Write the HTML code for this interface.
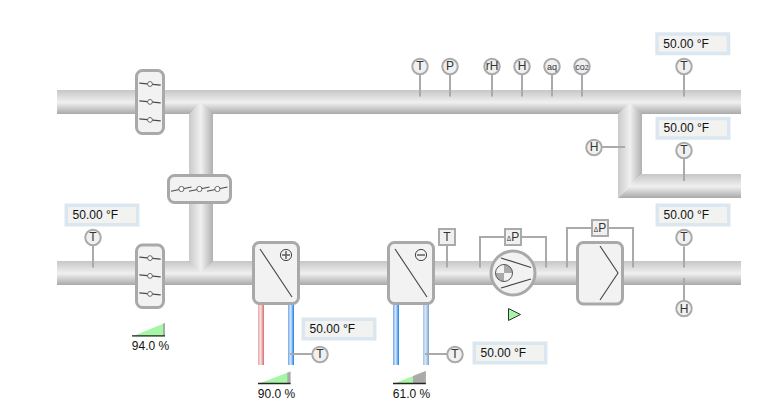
<!DOCTYPE html>
<html><head><meta charset="utf-8">
<style>
html,body{margin:0;padding:0;background:#fff;width:771px;height:418px;overflow:hidden}
svg{display:block;font-family:"Liberation Sans",sans-serif}
</style></head><body>
<svg width="771" height="418" viewBox="0 0 771 418">
<defs>
<linearGradient id="gh" x1="0" y1="0" x2="0" y2="1">
<stop offset="0" stop-color="#c6c6c6"/><stop offset="0.52" stop-color="#f0f0f0"/><stop offset="1" stop-color="#a9a9a9"/>
</linearGradient>
<linearGradient id="gv" x1="0" y1="0" x2="1" y2="0">
<stop offset="0" stop-color="#cacaca"/><stop offset="0.5" stop-color="#f0f0f0"/><stop offset="1" stop-color="#b0b0b0"/>
</linearGradient>
<linearGradient id="gred" x1="0" y1="0" x2="1" y2="0">
<stop offset="0" stop-color="#eba6a6"/><stop offset="0.45" stop-color="#f1e2e2"/><stop offset="1" stop-color="#df6868"/>
</linearGradient>
<linearGradient id="gblue" x1="0" y1="0" x2="1" y2="0">
<stop offset="0" stop-color="#6ea8f0"/><stop offset="0.45" stop-color="#d9e7f6"/><stop offset="1" stop-color="#167cf0"/>
</linearGradient>
<linearGradient id="gblue2" x1="0" y1="0" x2="1" y2="0">
<stop offset="0" stop-color="#9cc6f2"/><stop offset="0.45" stop-color="#dfe6ee"/><stop offset="1" stop-color="#6f9fdc"/>
</linearGradient>
</defs>

<!-- pipes -->
<rect x="57" y="90" width="684" height="24" fill="url(#gh)"/>
<rect x="57" y="261" width="684" height="24" fill="url(#gh)"/>
<polygon points="189,114 201,102 213,114 213,261 201,273 189,261" fill="url(#gv)"/>
<polygon points="618,114 630,102 642,114 642,174 618,198" fill="url(#gv)"/>
<polygon points="618,198 642,174 741,174 741,198" fill="url(#gh)"/>

<!-- water pipes -->
<rect x="258" y="304" width="6" height="61" fill="url(#gred)"/>
<rect x="288" y="304" width="6" height="61" fill="url(#gblue)"/>
<rect x="393" y="304" width="6" height="61" fill="url(#gblue)"/>
<rect x="423" y="304" width="6" height="61" fill="url(#gblue2)"/>

<!-- sensor lines -->
<g stroke="#aaaaaa" stroke-width="2" fill="none">
<line x1="420" y1="74" x2="420" y2="96.5"/>
<line x1="450" y1="74" x2="450" y2="96.5"/>
<line x1="492" y1="74" x2="492" y2="96.5"/>
<line x1="522" y1="74" x2="522" y2="96.5"/>
<line x1="552" y1="74" x2="552" y2="96.5"/>
<line x1="582" y1="74" x2="582" y2="96.5"/>
<line x1="684" y1="74" x2="684" y2="96.5"/>
<line x1="684" y1="159" x2="684" y2="181"/>
<line x1="602" y1="147" x2="625" y2="147"/>
<line x1="93" y1="245" x2="93" y2="267.5"/>
<line x1="684" y1="246.5" x2="684" y2="267.5"/>
<line x1="684" y1="278" x2="684" y2="301"/>
<line x1="447" y1="246" x2="447" y2="267.5"/>
<polyline points="480,267.5 480,237 546,237 546,267.5"/>
<polyline points="567,267.5 567,228 633,228 633,267.5"/>
<line x1="290" y1="354" x2="312" y2="354"/>
<line x1="425" y1="354" x2="447" y2="354"/>
</g>

<!-- dampers -->
<g stroke="#a9a9a9" stroke-width="3" fill="#f2f2f2">
<rect x="136.5" y="70.5" width="27" height="63" rx="6"/>
<rect x="136.5" y="245" width="27" height="62.5" rx="6"/>
<rect x="168.5" y="175.5" width="62" height="27" rx="6"/>
</g>
<g stroke="#4a4a4a" stroke-width="1.1" fill="none">
<line x1="139.3" y1="83.1" x2="160.7" y2="85.1"/>
<line x1="139.3" y1="100.9" x2="160.7" y2="102.9"/>
<line x1="139.3" y1="118.9" x2="160.7" y2="120.9"/>
<line x1="139.3" y1="257.1" x2="160.7" y2="259.1"/>
<line x1="139.3" y1="274.9" x2="160.7" y2="276.9"/>
<line x1="139.3" y1="292.9" x2="160.7" y2="294.9"/>
<line x1="171" y1="191.2" x2="191.5" y2="187"/>
<line x1="189" y1="191.2" x2="209.5" y2="187"/>
<line x1="207" y1="191.2" x2="227.5" y2="187"/>
</g>
<g stroke="#666" stroke-width="1" fill="#fff">
<circle cx="150" cy="84" r="2.4"/><circle cx="150" cy="101.9" r="2.4"/><circle cx="150" cy="119.9" r="2.4"/>
<circle cx="150" cy="258.1" r="2.4"/><circle cx="150" cy="275.9" r="2.4"/><circle cx="150" cy="293.9" r="2.4"/>
<circle cx="181.4" cy="189" r="2.6"/><circle cx="199.4" cy="189" r="2.6"/><circle cx="217.4" cy="189" r="2.6"/>
</g>

<!-- coils & filter -->
<g stroke="#a9a9a9" stroke-width="3" fill="#f2f2f2">
<rect x="253.5" y="242.5" width="45" height="61" rx="6"/>
<rect x="388.5" y="242.5" width="45" height="61" rx="6"/>
<rect x="577.5" y="242.5" width="45" height="61.5" rx="6"/>
</g>
<g stroke="#444" stroke-width="1.1" fill="none">
<line x1="260" y1="249" x2="292" y2="297"/>
<line x1="395" y1="249" x2="427" y2="297"/>
<polyline points="600,246 618,273 600,300"/>
<circle cx="286" cy="255" r="5.6" stroke-width="1"/>
<circle cx="421" cy="255" r="5.6" stroke-width="1"/>
<g stroke="#666" stroke-width="1.6"><line x1="282" y1="255" x2="290" y2="255"/><line x1="286" y1="251" x2="286" y2="259"/><line x1="417" y1="255" x2="425" y2="255"/></g>
</g>

<!-- fan -->
<circle cx="513" cy="273" r="22" fill="#f2f2f2" stroke="#a9a9a9" stroke-width="3"/>
<g stroke="#444" stroke-width="1.2" fill="none">
<line x1="501" y1="258" x2="531" y2="267.5"/>
<line x1="501" y1="288" x2="531" y2="279"/>
</g>
<path d="M504,273 L504,264.5 A8.5,8.5 0 0 1 512.5,273 Z" fill="#aaa"/>
<path d="M504,273 L504,281.5 A8.5,8.5 0 0 1 495.5,273 Z" fill="#aaa"/>
<circle cx="504" cy="273" r="8.5" fill="none" stroke="#555" stroke-width="1"/>
<polygon points="508.5,308.5 520.5,314.5 508.5,320.5" fill="#a4f7a4" stroke="#333" stroke-width="1"/>

<!-- sensor circles -->
<g stroke="#aaaaaa" stroke-width="2" fill="#f0f0f0">
<circle cx="420" cy="66.5" r="7.75"/>
<circle cx="450" cy="66.5" r="7.75"/>
<circle cx="492" cy="66.5" r="7.75"/>
<circle cx="522" cy="66.5" r="7.75"/>
<circle cx="552" cy="66.5" r="7.75"/>
<circle cx="582" cy="66.5" r="7.75"/>
<circle cx="684" cy="66.5" r="7.75"/>
<circle cx="684" cy="150.5" r="7.75"/>
<circle cx="594" cy="147.5" r="7.75"/>
<circle cx="93" cy="237.5" r="7.75"/>
<circle cx="684" cy="237.5" r="7.75"/>
<circle cx="684" cy="308.5" r="7.75"/>
<circle cx="320" cy="354.5" r="7.75"/>
<circle cx="455" cy="354.5" r="7.75"/>
<rect x="439" y="229" width="16" height="16"/>
<rect x="505" y="229" width="16" height="16"/>
<rect x="592" y="220" width="16" height="16"/>
</g>
<g fill="#333" font-size="12" text-anchor="middle">
<text x="420" y="70">T</text>
<text x="450" y="70">P</text>
<text x="492" y="70">rH</text>
<text x="522" y="70">H</text>
<text x="552" y="70" font-size="9">aq</text>
<text x="582" y="69.5" font-size="9">co<tspan font-size="7">2</tspan></text>
<text x="684" y="70">T</text>
<text x="684" y="154">T</text>
<text x="594" y="151">H</text>
<text x="93" y="241">T</text>
<text x="684" y="241">T</text>
<text x="684" y="312.5">H</text>
<text x="320" y="358">T</text>
<text x="455" y="358">T</text>
<text x="447" y="240.5">T</text>
<text x="513" y="241" font-size="12"><tspan font-size="6.5">Δ</tspan>P</text>
<text x="600" y="232" font-size="12"><tspan font-size="6.5">Δ</tspan>P</text>
</g>

<!-- text boxes -->
<g stroke="#dbe7f0" stroke-width="3.5" fill="#f2f2f1">
<rect x="657" y="34" width="71.5" height="19.5"/>
<rect x="657.25" y="118.5" width="71.5" height="19.5"/>
<rect x="657.25" y="205.25" width="71.5" height="19.5"/>
<rect x="66.25" y="205.25" width="71.5" height="19.5"/>
<rect x="303.25" y="319.25" width="71.5" height="19.5"/>
<rect x="474.25" y="343.25" width="71.5" height="19.5"/>
</g>
<g fill="#111" font-size="12">
<text x="663.35" y="48">50.00 °F</text>
<text x="663.6" y="132">50.00 °F</text>
<text x="663.6" y="219">50.00 °F</text>
<text x="72.6" y="219">50.00 °F</text>
<text x="309.6" y="333">50.00 °F</text>
<text x="480.6" y="357">50.00 °F</text>
</g>

<!-- valve indicators -->
<g>
<polygon points="132,336.5 165,323 165,336.5" fill="#a4f7a4"/>
<polygon points="163,323.8 165,323 165,336 163,336" fill="#aaa"/>
<line x1="132" y1="335.9" x2="165" y2="335.9" stroke="#282222" stroke-width="1.3"/>
<polygon points="258,384 290.5,371.5 290.5,384" fill="#a4f7a4"/>
<polygon points="287.3,372.8 290.5,371.5 290.5,384 287.3,384" fill="#aaa"/>
<line x1="258" y1="383.5" x2="290.5" y2="383.5" stroke="#282222" stroke-width="1.3"/>
<polygon points="393,384 425.8,371 425.8,384" fill="#a4f7a4"/>
<polygon points="413,376.1 425.8,371 425.8,384 413,384" fill="#aaa"/>
<line x1="393" y1="383.5" x2="425.8" y2="383.5" stroke="#282222" stroke-width="1.3"/>
</g>
<g fill="#111" font-size="12" text-anchor="middle">
<text x="150.5" y="349.5">94.0 %</text>
<text x="276.5" y="397.5">90.0 %</text>
<text x="411.5" y="397.5">61.0 %</text>
</g>
</svg>
</body></html>
